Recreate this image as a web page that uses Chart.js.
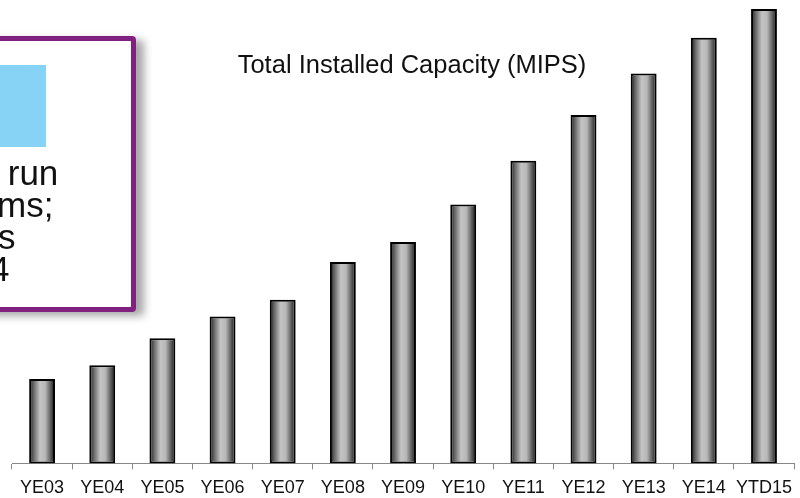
<!DOCTYPE html>
<html>
<head>
<meta charset="utf-8">
<script src="https://cdn.jsdelivr.net/npm/chart.js@4.4.0/dist/chart.umd.min.js"></script>
<style>
  html, body { margin: 0; padding: 0; background: #fff; }
  #wrap { position: relative; width: 800px; height: 498px; overflow: hidden; font-family: Arial, "Liberation Sans", sans-serif; }
  #chart { position: absolute; left: 0; top: 0; }
  #title { position: absolute; left: 412px; top: 50px; transform: translateX(-50%); font-size: 25.5px; color: #111; white-space: nowrap; }
  #callout { position: absolute; left: -205px; top: 36px; width: 331px; height: 266px; border: 5px solid #80207f; border-radius: 4px; background: #fff; box-shadow: 8px 4px 8px rgba(0,0,0,0.35); }
  #swatch { position: absolute; left: 0; top: 24px; width: 246px; height: 82px; background: #87d3f5; }
  #callout .line { position: absolute; font-size: 35px; line-height: 32px; color: #111; white-space: nowrap; }
</style>
</head>
<body>
<div id="wrap">
  <canvas id="chart" width="800" height="507"></canvas>
  <div id="title">Total Installed Capacity (MIPS)</div>
  <div id="callout">
    <div id="swatch"></div>
    <div class="line" style="left:198px;top:116px;">&nbsp;run</div>
    <div class="line" style="left:197px;top:148px;">ms;</div>
    <div class="line" style="left:198px;top:180px;">s</div>
    <div class="line" style="left:190px;top:212px;">4</div>
  </div>
</div>
<script>
// values (arbitrary units, bar heights)
const categories = ['YE03', 'YE04', 'YE05', 'YE06', 'YE07', 'YE08', 'YE09', 'YE10', 'YE11', 'YE12', 'YE13', 'YE14', 'YTD15'];
const capacity = [85, 99, 126, 148, 165, 203, 223, 261, 305, 351, 393, 429, 458];
const yMax = 467;

// cylinder-like shading for one bar
function shade(ctx, bar) {
  const left = bar.x - bar.width / 2;
  const right = bar.x + bar.width / 2;
  const g = ctx.createLinearGradient(left, 0, right, 0);
  g.addColorStop(0, '#111');
  g.addColorStop(0.15, '#5e5e5e');
  g.addColorStop(0.42, '#c4c4c4');
  g.addColorStop(0.62, '#b8b8b8');
  g.addColorStop(0.85, '#555');
  g.addColorStop(1, '#111');
  return g;
}

const barShade = {
  id: 'barShade',
  beforeDatasetsDraw(chart) {
    chart.getDatasetMeta(0).data.forEach(bar => {
      bar.options.backgroundColor = shade(chart.ctx, bar);
    });
  }
};

new Chart(document.getElementById('chart'), {
  type: 'bar',
  data: {
    labels: categories,
    datasets: [{
      label: 'Total Installed Capacity (MIPS)',
      data: capacity,
      // scriptable so every bar gets its own options object
      backgroundColor: () => '#aaa',
      borderColor: '#000',
      borderWidth: 2,
      borderSkipped: false,
      categoryPercentage: 1,
      barPercentage: 0.43
    }]
  },
  options: {
    responsive: false,
    animation: false,
    layout: { padding: { left: 12, right: 0, top: 0, bottom: 0 } },
    plugins: {
      legend: { display: false },
      title: { display: false },
      tooltip: { enabled: false }
    },
    scales: {
      x: {
        grid: {
          offset: true,
          drawOnChartArea: false,
          drawTicks: true,
          tickLength: 6,
          color: '#888'
        },
        border: { display: true, color: '#888', width: 1 },
        ticks: {
          color: '#111',
          font: { family: 'Arial, "Liberation Sans", sans-serif', size: 18 },
          padding: 8,
          maxRotation: 0,
          autoSkip: false
        }
      },
      y: {
        display: false,
        min: 0,
        max: yMax
      }
    }
  },
  plugins: [barShade]
});
</script>
</body>
</html>
